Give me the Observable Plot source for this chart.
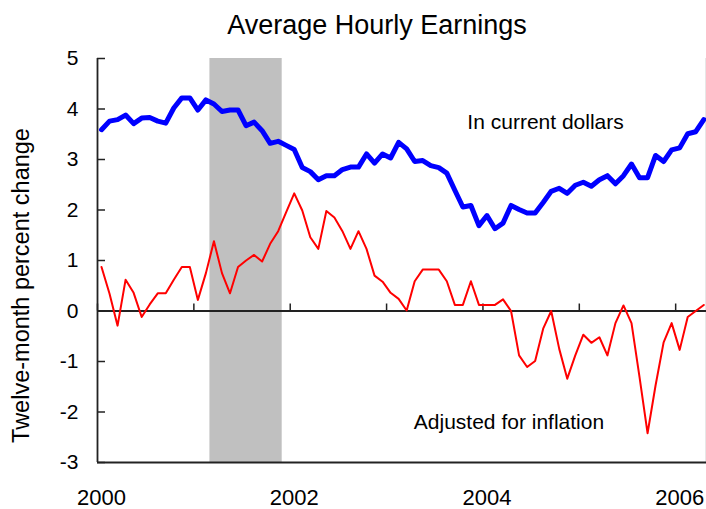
<!DOCTYPE html>
<html>
<head>
<meta charset="utf-8">
<script src="https://cdn.jsdelivr.net/npm/d3@7"></script>
<script src="https://cdn.jsdelivr.net/npm/@observablehq/plot@0.6"></script>
<style>
  html, body { margin: 0; padding: 0; background: #fff; }
  svg { font-family: "Liberation Sans", Arial, sans-serif; }
</style>
</head>
<body>
<div id="chart"></div>
<script>
// ---- data ----
const titleText = "Average Hourly Earnings";
const yLabelText = "Twelve-month percent change";
const startYear = 2000; // first observation: January 2000, monthly
const nominal = [
  3.59,3.76,3.79,3.88,3.71,3.82,3.83,3.76,3.72,4.02,
  4.22,4.22,3.98,4.18,4.10,3.95,3.98,3.98,3.67,3.74,
  3.57,3.32,3.36,3.28,3.20,2.84,2.76,2.60,2.68,2.68,
  2.80,2.85,2.85,3.11,2.93,3.11,3.03,3.34,3.21,2.96,
  2.98,2.88,2.84,2.73,2.39,2.06,2.09,1.69,1.89,1.63,
  1.74,2.09,2.01,1.94,1.94,2.15,2.37,2.43,2.33,2.49,
  2.55,2.47,2.60,2.68,2.52,2.68,2.91,2.64,2.64,3.08,
  2.96,3.19,3.23,3.51,3.55,3.79
];
const real = [
  0.87,0.34,-0.29,0.62,0.36,-0.12,0.13,0.35,0.35,0.62,
  0.87,0.87,0.22,0.75,1.38,0.75,0.35,0.87,1.00,1.11,
  0.98,1.33,1.58,1.96,2.33,1.99,1.46,1.23,1.98,1.85,
  1.58,1.23,1.58,1.23,0.70,0.58,0.36,0.24,0.01,0.59,
  0.82,0.82,0.82,0.59,0.12,0.12,0.59,0.12,0.12,0.12,
  0.23,0.00,-0.88,-1.11,-0.99,-0.35,0.00,-0.75,-1.34,-0.88,
  -0.47,-0.63,-0.52,-0.88,-0.24,0.11,-0.24,-1.31,-2.42,-1.47,
  -0.62,-0.24,-0.77,-0.12,0.00,0.12
];
const recession = [{start: 2001 + 2/12, end: 2001 + 11/12}]; // Mar–Nov 2001
const yTicks = [-3,-2,-1,0,1,2,3,4,5];
const xTickYears = [2000,2001,2002,2003,2004,2005,2006];
const xLabelYears = [2000,2002,2004,2006];
const annotations = [
  {x: 2004.65, y: 3.74, text: "In current dollars"},
  {x: 2004.27, y: -2.20, text: "Adjusted for inflation"}
];

// ---- build table ----
const toDate = i => startYear + (i + 0.5) / 12; // mid-month in fractional years
const nominalRows = nominal.map((v, i) => ({t: toDate(i), v}));
const realRows = real.map((v, i) => ({t: toDate(i), v}));

// ---- layout ----
const W = 706, H = 509, mL = 97, mR = 0, mT = 58, mB = 47;
const plotW = W - mL - mR, plotH = H - mT - mB;
const yMin = -3, yMax = 5;
const zeroPx = plotH * (yMax - 0) / (yMax - yMin);
const axisColor = "#222";

const chart = Plot.plot({
  width: W, height: H,
  marginLeft: mL, marginRight: mR, marginTop: mT, marginBottom: mB,
  style: {fontFamily: '"Liberation Sans", Arial, sans-serif', background: "#fff", overflow: "visible"},
  x: {domain: [2000, 2006.32]},
  y: {domain: [yMin, yMax]},
  marks: [
    Plot.rect(recession, {x1: "start", x2: "end", fill: "#c0c0c0"}),
    Plot.ruleX([2006.32], {stroke: "#cfcfcf", strokeWidth: 2}),
    Plot.ruleY([0], {stroke: axisColor, strokeWidth: 1.8}),
    Plot.tickX(xTickYears, {x: d => d, stroke: axisColor, strokeWidth: 1.5, insetTop: zeroPx - 7, insetBottom: plotH - zeroPx}),
    Plot.tickY(yTicks, {y: d => d, stroke: axisColor, strokeWidth: 1.5, insetRight: plotW - 8}),
    Plot.ruleX([2000], {stroke: axisColor, strokeWidth: 1.8}),
    Plot.ruleY([yMin], {stroke: axisColor, strokeWidth: 1.8}),
    Plot.line(realRows, {x: "t", y: "v", stroke: "#ff0000", strokeWidth: 2}),
    Plot.line(nominalRows, {x: "t", y: "v", stroke: "#0000ff", strokeWidth: 5, strokeLinejoin: "round"}),
    Plot.text(annotations, {x: "x", y: "y", text: "text", fontSize: 21, fill: "#000", textAnchor: "middle"}),
    Plot.axisY({ticks: yTicks, tickSize: 0, tickPadding: 19, fontSize: 21, label: null, tickFormat: d => String(d), fill: "#000"}),
    Plot.axisX({ticks: xLabelYears, tickSize: 0, tickPadding: 27, fontSize: 22, label: null, tickFormat: d => String(d), dx: 4, fill: "#000"}),
    Plot.text([yLabelText], {frameAnchor: "left", textAnchor: "middle", lineAnchor: "middle", rotate: -90, dx: -76, dy: 25, fontSize: 23.5, fill: "#000"}),
    Plot.text([titleText], {frameAnchor: "top", textAnchor: "middle", dx: -25, dy: -25, lineAnchor: "bottom", fontSize: 27, fill: "#000"})
  ]
});
document.getElementById("chart").appendChild(chart);
</script>
</body>
</html>
